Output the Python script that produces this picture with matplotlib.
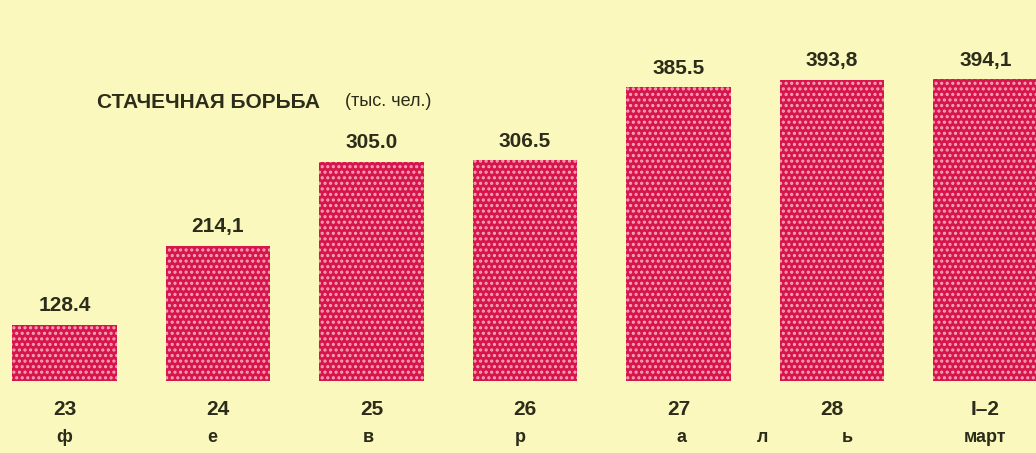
import matplotlib.pyplot as plt

# strike participants, thousands of people
days = ["23", "24", "25", "26", "27", "28", "I–2"]
strikers = [128.4, 214.1, 305.0, 306.5, 385.5, 393.8, 394.1]
value_labels = ["128.4", "214,1", "305.0", "306.5", "385.5", "393,8", "394,1"]
month_letters = ["ф", "е", "в", "р", "а", "л", "ь"]
letter_pos = [0.0, 0.96, 1.98, 2.97, 4.02, 4.55, 5.1]

BG = "#fbf8bd"
BAR = "#d6164a"
DOTS = "#f7a4bb"
INK = "#2c2c1a"
FONT = ["Liberation Sans Narrow", "Liberation Sans", "DejaVu Sans"]

plt.rcParams["hatch.linewidth"] = 1.5
plt.rcParams["hatch.color"] = DOTS

fig = plt.figure(figsize=(10.36, 4.53), dpi=100)
fig.patch.set_facecolor(BG)
ax = fig.add_axes([0, 72 / 453, 1, 381 / 453])
ax.set_facecolor(BG)
ax.set_axis_off()

x = list(range(len(strikers)))
ax.bar(x, strikers, width=0.68, color=BAR, edgecolor=DOTS, linewidth=0, hatch="...")
ax.set_xlim(-0.42, 6.33)
ax.set_ylim(68, 480)

for xi, v, lab in zip(x, strikers, value_labels):
    ax.annotate(lab, (xi, v), xytext=(0, 7), textcoords="offset points",
                ha="center", va="bottom", fontsize=15, fontweight="bold",
                color=INK, family=FONT)

tr = ax.get_xaxis_transform()
for xi, d in zip(x, days):
    ax.text(xi, -0.076, d, transform=tr, ha="center", va="center", fontsize=15,
            fontweight="bold", color=INK, family=FONT, clip_on=False)
for xi, ch in zip(letter_pos, month_letters):
    ax.text(xi, -0.147, ch, transform=tr, ha="center", va="center", fontsize=13,
            fontweight="bold", color=INK, family=FONT, clip_on=False)
ax.text(6, -0.147, "март", transform=tr, ha="center", va="center", fontsize=13,
        fontweight="bold", color=INK, family=FONT, clip_on=False)

fig.text(97 / 1036, 1 - 102 / 453, "СТАЧЕЧНАЯ БОРЬБА", ha="left", va="center",
         fontsize=15, fontweight="bold", color=INK, family=FONT)
fig.text(345 / 1036, 1 - 101 / 453, "(тыс. чел.)", ha="left", va="center",
         fontsize=13, color=INK, family=FONT)

fig.savefig("out.png", dpi=100, facecolor=BG)
